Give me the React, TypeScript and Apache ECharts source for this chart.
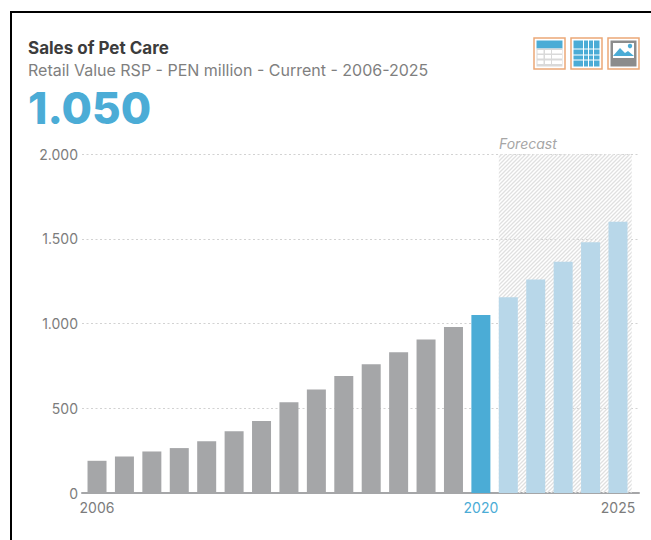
import React, { useEffect, useRef } from "react";
import * as echarts from "echarts";

const years = ["2006","2007","2008","2009","2010","2011","2012","2013","2014","2015","2016","2017","2018","2019","2020","2021","2022","2023","2024","2025"];
const salesValues = [190, 215, 245, 265, 305, 365, 425, 535, 610, 690, 760, 830, 905, 980, 1050, 1155, 1260, 1365, 1480, 1600];
const highlightYear = "2020";
const forecastYears = ["2021", "2022", "2023", "2024", "2025"];
const shownYears = ["2006", "2020", "2025"];
const yTicks = [0, 500, 1000, 1500, 2000];

const FONT = "Inter, 'Open Sans', sans-serif";
const BLUE = "#4bacd6";
const PALE = "#b8d7e9";
const GREY = "#a5a6a8";
const TEXT = "#7c7c7c";

const thousands = (v: number) => String(v).replace(/\B(?=(\d{3})+$)/g, ".");

// Diagonal stripe tile that fills the forecast band
function hatchTile(): HTMLCanvasElement {
  const c = document.createElement("canvas");
  c.width = 4;
  c.height = 4;
  const g = c.getContext("2d")!;
  g.strokeStyle = "#e0e0e0";
  g.lineWidth = 1.3;
  g.beginPath();
  g.moveTo(-1, 5);
  g.lineTo(5, -1);
  g.moveTo(-1, 1);
  g.lineTo(1, -1);
  g.moveTo(3, 5);
  g.lineTo(5, 3);
  g.stroke();
  return c;
}

function tableIcon(x: number, y: number, kind: "table" | "grid" | "image") {
  const children: any[] = [
    { type: "rect", shape: { x: 0, y: 0, width: 31, height: 31 }, style: { fill: "#fff", stroke: "#eba877", lineWidth: 1.5 } },
  ];
  if (kind === "table") {
    children.push({ type: "rect", shape: { x: 2.5, y: 2.5, width: 26, height: 8 }, style: { fill: BLUE } });
    children.push({ type: "rect", shape: { x: 2.5, y: 10.5, width: 26, height: 18 }, style: { fill: "#d9d9d9" } });
    for (const rx of [3.5, 11, 18]) {
      const w = rx === 18 ? 10 : 6;
      for (const ry of [12, 17, 22.5]) {
        children.push({ type: "rect", shape: { x: rx, y: ry, width: w, height: 3.5 }, style: { fill: "#fff" } });
      }
    }
  } else if (kind === "grid") {
    for (const rx of [[2.5, 9.5], [13, 4], [18, 4], [23, 5.5]]) {
      for (const ry of [[2.5, 8], [11.5, 5], [17.5, 4], [22.5, 6]]) {
        children.push({ type: "rect", shape: { x: rx[0], y: ry[0], width: rx[1], height: ry[1] }, style: { fill: BLUE } });
      }
    }
  } else {
    children.push({ type: "rect", shape: { x: 2.5, y: 2.5, width: 26, height: 26 }, style: { fill: "#8c8c8c" } });
    children.push({ type: "rect", shape: { x: 5, y: 5, width: 21, height: 15 }, style: { fill: "#fff" } });
    children.push({ type: "polygon", shape: { points: [[5, 18], [12, 10], [17, 15], [20, 13], [26, 18]] }, style: { fill: BLUE } });
    children.push({ type: "circle", shape: { cx: 22, cy: 8, r: 2.2 }, style: { fill: BLUE } });
  }
  return { type: "group", x, y, children };
}

export default function App() {
  const ref = useRef<HTMLDivElement>(null);

  useEffect(() => {
    document.body.style.margin = "0";
    const chart = echarts.init(ref.current!, undefined, { renderer: "svg" });
    chart.setOption({
      animation: false,
      backgroundColor: "#fff",
      textStyle: { fontFamily: FONT },
      title: [
        { text: "Sales of Pet Care", left: 28, top: 39, padding: 0, textStyle: { fontFamily: FONT, fontSize: 17, fontWeight: 700, color: "#3c3c3c" } },
        { text: "Retail Value RSP - PEN million - Current - 2006-2025", left: 28, top: 62, padding: 0, textStyle: { fontFamily: FONT, fontSize: 16, fontWeight: 400, color: "#7f7f7f" } },
        { text: "1.050", left: 28, top: 86, padding: 0, textStyle: { fontFamily: FONT, fontSize: 44, fontWeight: 800, color: BLUE } },
        { text: "Forecast", left: 499, top: 136, padding: 0, textStyle: { fontFamily: FONT, fontSize: 14, fontStyle: "italic", fontWeight: 400, color: "#a6a6a6" } },
      ],
      graphic: [
        tableIcon(534, 38, "table"),
        tableIcon(571, 38, "grid"),
        tableIcon(608, 38, "image"),
      ],
      grid: [
        { left: 83.3, right: 19.3, top: 154, bottom: 47 },
        { left: 82, right: 12, top: 154, bottom: 47 },
      ],
      xAxis: [
        {
          type: "category",
          gridIndex: 0,
          data: years,
          boundaryGap: true,
          axisLine: { show: false },
          axisTick: { show: false },
          axisLabel: {
            interval: 0,
            margin: 7,
            fontFamily: FONT,
            fontSize: 14,
            color: (v: string) => (v === highlightYear ? BLUE : TEXT),
            formatter: (v: string) => (shownYears.includes(v) ? v : ""),
          },
        },
        {
          type: "category",
          gridIndex: 1,
          data: years,
          axisLine: { show: true, lineStyle: { color: GREY, width: 2 } },
          axisTick: { show: false },
          axisLabel: { show: false },
        },
      ],
      yAxis: [
        { type: "value", gridIndex: 0, min: 0, max: 2000, interval: 500, show: false, splitLine: { show: false } },
        {
          type: "value",
          gridIndex: 1,
          min: yTicks[0],
          max: yTicks[yTicks.length - 1],
          interval: yTicks[1],
          axisLine: { show: false },
          axisTick: { show: false },
          axisLabel: { margin: 4, fontFamily: FONT, fontSize: 14, color: TEXT, formatter: (v: number) => thousands(v) },
          splitLine: { show: true, lineStyle: { color: "#d2d2d2", type: [2, 2.5], width: 1.2 } },
        },
      ],
      series: [
        {
          // Hatched band from the first forecast bar to the end of the axis
          type: "custom",
          xAxisIndex: 0,
          yAxisIndex: 0,
          z: 1,
          silent: true,
          data: [[forecastYears[0], forecastYears[forecastYears.length - 1], yTicks[yTicks.length - 1]]],
          encode: { x: [0, 1], y: 2 },
          renderItem: (_p: any, api: any) => {
            const topLeft = api.coord([api.value(0), api.value(2)]);
            const bottomRight = api.coord([api.value(1), 0]);
            const band = api.size([1, 0])[0];
            const x0 = topLeft[0] - 9.5;
            const x1 = bottomRight[0] + band / 2;
            return {
              type: "rect",
              shape: { x: x0, y: topLeft[1], width: x1 - x0, height: bottomRight[1] - topLeft[1] },
              style: { fill: { image: hatchTile(), repeat: "repeat" } },
            };
          },
        },
        {
          type: "bar",
          xAxisIndex: 0,
          yAxisIndex: 0,
          barWidth: 19,
          z: 3,
          data: salesValues.map((value, i) => ({
            value,
            itemStyle: {
              color: years[i] === highlightYear ? BLUE : forecastYears.includes(years[i]) ? PALE : GREY,
            },
          })),
        },
      ],
    });
    return () => chart.dispose();
  }, []);

  return (
    <div style={{ position: "relative", width: 651, height: 540, overflow: "hidden", background: "#fff" }}>
      <div ref={ref} style={{ position: "absolute", left: 0, top: 0, width: 651, height: 540 }} />
      <div
        style={{
          position: "absolute",
          left: 10,
          top: 11,
          width: 660,
          height: 560,
          borderLeft: "2px solid #000",
          borderTop: "2px solid #000",
          pointerEvents: "none",
        }}
      />
    </div>
  );
}
